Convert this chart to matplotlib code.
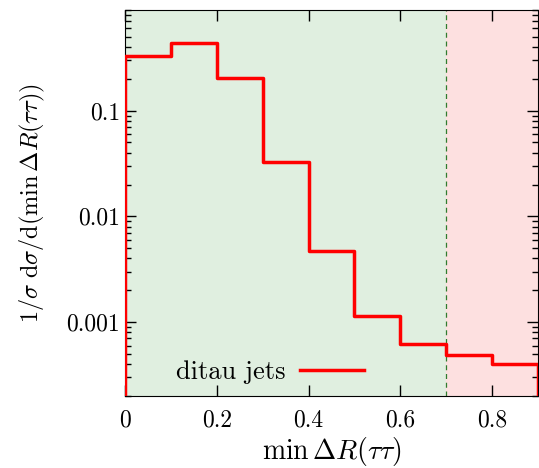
import numpy as np
import matplotlib.pyplot as plt

# dados do histograma
bordas = [0.0, 0.1, 0.2, 0.3, 0.4, 0.5, 0.6, 0.7, 0.8, 0.9]
valores = [0.33, 0.435, 0.205, 0.033, 0.0047, 0.00114, 0.00062, 0.00049, 0.0004]
corte = 0.7
xticks = [0, 0.2, 0.4, 0.6, 0.8]
xticklabels = ['0', '0.2', '0.4', '0.6', '0.8']
yticks = [0.001, 0.01, 0.1]
yticklabels = ['0.001', '0.01', '0.1']

plt.rcParams['font.family'] = 'cmr10'
plt.rcParams['mathtext.fontset'] = 'cm'
plt.rcParams['axes.formatter.use_mathtext'] = True

fig = plt.figure(figsize=(5.39, 4.68), dpi=100)
ax = fig.add_axes([0.232, 0.154, 0.766, 0.825])

ymin, ymax = 2e-4, 0.9
ax.axvspan(0, corte, color='#e0efe0', zorder=0)
ax.axvspan(corte, 0.9, color='#fde0e0', zorder=0)
ax.axvline(corte, color='#2e7d2e', ls=(0, (4, 3)), lw=0.9, zorder=1)

# linha em degraus, descendo ate a base nas pontas
xs = [bordas[0]] + list(np.repeat(bordas, 2)[1:-1]) + [bordas[-1]]
ys = [ymin * 0.5] + list(np.repeat(valores, 2)) + [ymin * 0.5]
ax.plot(xs, ys, color='#ff0000', lw=2.5, label='ditau jets', zorder=3)

ax.set_yscale('log')
ax.set_xlim(0, 0.9)
ax.set_ylim(ymin, ymax)
ax.set_xticks(xticks)
ax.set_xticklabels(xticklabels)
ax.set_yticks(yticks)
ax.set_yticklabels(yticklabels)
ax.tick_params(which='both', direction='in', top=True, right=True, labelsize=17)
ax.tick_params(which='major', length=8, width=1)
ax.tick_params(which='minor', length=4, width=1)
ax.tick_params(axis='x', pad=10)

ax.set_xlabel(r'$\min\,\Delta R(\tau\tau)$', fontsize=20, labelpad=2)
ax.set_ylabel(r'$1/\sigma\ \mathrm{d}\sigma/\mathrm{d}(\min\,\Delta R(\tau\tau))$', fontsize=17.5,
              labelpad=14)

ax.legend(loc='lower left', bbox_to_anchor=(0.123, 0.03), frameon=False, fontsize=19,
          markerfirst=False, handlelength=2.45, handletextpad=0.55,
          borderpad=0, borderaxespad=0)

fig.savefig('out.png', dpi=100)
